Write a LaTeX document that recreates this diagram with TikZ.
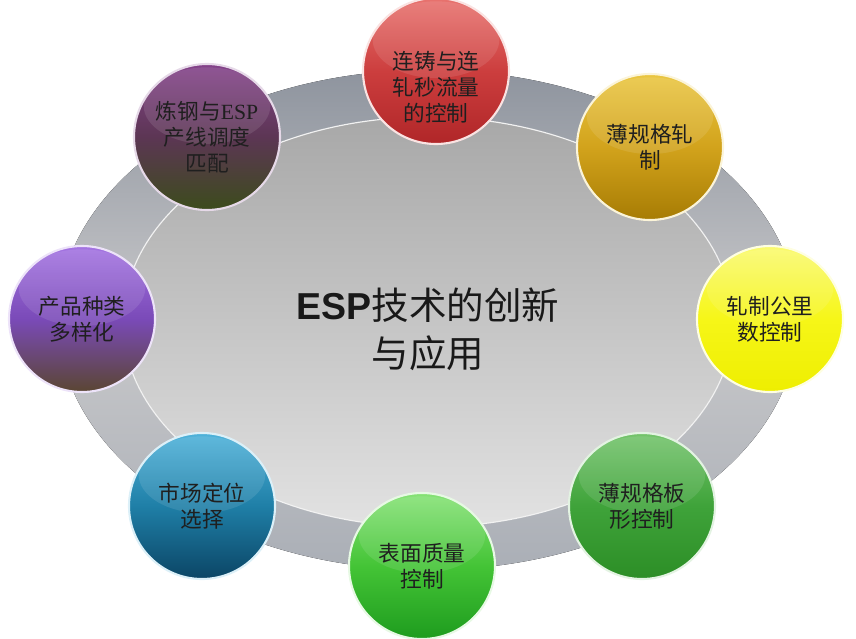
\documentclass[tikz,border=0pt]{standalone}
\usepackage{fontspec}
\setmainfont{Liberation Serif}
\newfontfamily\cjk{Noto Sans CJK SC}
\newfontfamily\heiti{Liberation Sans}
\usepackage{tikz}
\usetikzlibrary{calc, positioning}

\definecolor{ringA}{HTML}{C8C8CA}
\definecolor{ringB}{HTML}{8E949E}
\definecolor{coreA}{HTML}{A8A8A8}
\definecolor{coreB}{HTML}{E2E2E2}
% ball colours: top / middle / bottom
\definecolor{redT}{HTML}{E8726E}\definecolor{redM}{HTML}{CC3E3E}\definecolor{redB}{HTML}{B02628}
\definecolor{plmT}{HTML}{84428A}\definecolor{plmM}{HTML}{5C3654}\definecolor{plmB}{HTML}{3C4C1C}
\definecolor{gldT}{HTML}{EAC642}\definecolor{gldM}{HTML}{D2A31C}\definecolor{gldB}{HTML}{A77C04}
\definecolor{ylwT}{HTML}{FAFA70}\definecolor{ylwM}{HTML}{F6F618}\definecolor{ylwB}{HTML}{EEEE00}
\definecolor{grnT}{HTML}{74C46C}\definecolor{grnM}{HTML}{3FA33A}\definecolor{grnB}{HTML}{2C8E26}
\definecolor{lmeT}{HTML}{86E276}\definecolor{lmeM}{HTML}{44C436}\definecolor{lmeB}{HTML}{1E9C1E}
\definecolor{tealT}{HTML}{4EB2DA}\definecolor{tealM}{HTML}{1F7FA7}\definecolor{tealB}{HTML}{0B4565}
\definecolor{vioT}{HTML}{A474E2}\definecolor{vioM}{HTML}{7A4AB8}\definecolor{vioB}{HTML}{5A4632}

\begin{document}
\begin{tikzpicture}[x=0.03cm, y=-0.03cm,
	ball/.style n args={3}{circle, minimum size=4.38cm, inner sep=0pt,
		top color=#1, bottom color=#3, middle color=#2, draw=#1!20!white, line width=1.8pt,
		align=center, text=black!88, font=\cjk\fontsize{18.5}{22}\selectfont,
		path picture={\fill[white, opacity=0.1] ($(path picture bounding box.north)+(0,-1.25cm)$) ellipse (1.9cm and 1.15cm);}},
	balltext/.style={align=center, text=black!88, font=\cjk\fontsize{18.5}{22}\selectfont}]
	\useasboundingbox (0,0) rectangle (856,639);
	% ring and core
	\fill[top color=ringB, bottom color=ringB!75!white, middle color=ringA] (428,320) ellipse (11.1cm and 7.5cm);
	\fill[top color=coreA, bottom color=coreB] (428,322) ellipse (9.15cm and 6.15cm);
	\draw[white!90!gray, line width=1pt] (428,322) ellipse (9.15cm and 6.15cm);
	\node[align=center, text=black!90, font=\cjk\fontsize{32}{41}\selectfont] (core) at (428,329) {{\heiti\bfseries ESP}技术的创新\\与应用};
	% the eight balls
	\node[ball={redT}{redM}{redB}, label={[balltext, yshift=-14pt]center:连铸与连\\轧秒流量\\的控制}] (cast) at (436,71) {};
	\node[ball={gldT}{gldM}{gldB}] (thin) at (650,147) {薄规格轧\\制};
	\node[ball={ylwT}{ylwM}{ylwB}] (km) at (770,319) {轧制公里\\数控制};
	\node[ball={grnT}{grnM}{grnB}] (shape) at (642,506) {薄规格板\\形控制};
	\node[ball={lmeT}{lmeM}{lmeB}] (surf) at (422,566) {表面质量\\控制};
	\node[ball={tealT}{tealM}{tealB}] (market) at (202,506) {市场定位\\选择};
	\node[ball={vioT}{vioM}{vioB}] (prod) at (82,319) {产品种类\\多样化};
	\node[ball={plmT}{plmM}{plmB}] (steel) at (207,137) {炼钢与{\rmfamily ESP}\\产线调度\\匹配};
\end{tikzpicture}
\end{document}
